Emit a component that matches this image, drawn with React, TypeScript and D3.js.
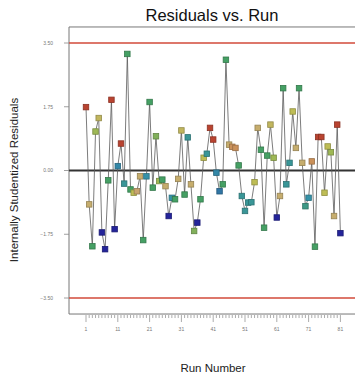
import React from "react";
import * as d3 from "d3";

const runs: number[] = Array.from({ length: 81 }, (_, i) => i + 1);
const residuals: number[] = [
  1.74, -0.93, -2.08, 1.07, 1.44, -1.7, -2.16, -0.27, 1.94, -1.61,
  0.12, 0.74, -0.36, 3.2, -0.52, -0.61, -0.57, -0.16, -1.91, -0.16,
  1.88, -0.47, 0.94, -0.29, -0.25, -0.43, -1.25, -0.75, -0.79, -0.23,
  1.1, -0.66, 0.91, -0.38, -1.66, -1.43, -0.79, 0.35, 0.46, 1.17,
  0.85, -0.06, -0.57, -0.38, 3.04, 0.71, 0.65, 0.62, 0.14, -0.7,
  -1.11, -0.88, -0.87, -0.32, 1.17, 0.57, -1.57, 0.41, 1.26, 0.35,
  -1.29, -0.7, 2.26, -0.38, 0.21, 1.62, 0.62, 2.26, 0.21, -0.98,
  -0.75, 0.25, -2.09, 0.92, 0.92, -0.61, 0.66, 0.5, -1.25, 1.26, -1.72,
];
// relative response level (0 = lowest, 1 = highest) used for point colour
const responseLevel: number[] = [
  0.95, 0.72, 0.4, 0.55, 0.66, 0.0, 0.0, 0.4, 0.95, 0.0,
  0.18, 0.95, 0.25, 0.4, 0.4, 0.62, 0.76, 0.72, 0.4, 0.2,
  0.4, 0.4, 0.5, 0.55, 0.4, 0.72, 0.0, 0.2, 0.4, 0.72,
  0.66, 0.4, 0.25, 0.72, 0.5, 0.0, 0.4, 0.62, 0.25, 0.95,
  0.95, 0.18, 0.15, 0.4, 0.4, 0.72, 0.8, 0.8, 0.4, 0.25,
  0.25, 0.25, 0.25, 0.62, 0.72, 0.4, 0.4, 0.4, 0.66, 0.55,
  0.0, 0.72, 0.4, 0.25, 0.25, 0.62, 0.72, 0.4, 0.72, 0.3,
  0.2, 0.8, 0.4, 0.95, 0.95, 0.62, 0.62, 0.55, 0.72, 0.95, 0.0,
];
const yTicks: number[] = [3.5, 1.75, 0, -1.75, -3.5];
const xTicks: number[] = [1, 11, 21, 31, 41, 51, 61, 71, 81];
const limit = 3.5;

export default function App() {
  const W = 355, H = 379;
  const x = d3.scaleLinear().domain([1, 81]).range([86, 340.4]);
  const y = d3.scaleLinear().domain([-limit, limit]).range([298, 43]);
  const left = 69, right = 355;
  const top = y(3.94), bottom = y(-3.94);
  const color = d3
    .scaleLinear<string>()
    .domain([0, 0.2, 0.4, 0.6, 0.75, 0.85, 1])
    .range(["#24249a", "#3592a8", "#45a064", "#bcc050", "#c8a874", "#cc7a40", "#b02828"]);
  const line = d3
    .line<number>()
    .x((_, i) => x(runs[i]))
    .y((d) => y(d));
  const fmt = d3.format(".2f");
  const s = 5.5;
  return (
    <svg width={W} height={H} style={{ position: "absolute", left: 0, top: 0, background: "#fff" }}
      fontFamily="Liberation Sans, Arial, sans-serif">
      <text x={212} y={21} textAnchor="middle" fontSize={16.5} fill="#111">Residuals vs. Run</text>
      {/* frame */}
      <line x1={left} x2={right} y1={top} y2={top} stroke="#777" strokeWidth={1} />
      <line x1={left} x2={left} y1={top} y2={bottom} stroke="#777" strokeWidth={1} />
      <line x1={left} x2={right} y1={bottom} y2={bottom} stroke="#777" strokeWidth={1} />
      {/* limits */}
      <line x1={left} x2={right} y1={y(limit)} y2={y(limit)} stroke="#d24a3a" strokeWidth={1.6} />
      <line x1={left} x2={right} y1={y(-limit)} y2={y(-limit)} stroke="#d24a3a" strokeWidth={1.6} />
      {/* y ticks */}
      {yTicks.map((t) => (
        <g key={t}>
          <line x1={left - 5} x2={left} y1={y(t)} y2={y(t)} stroke="#888" strokeWidth={0.8} />
          <text x={left - 16} y={y(t) + 1.8} textAnchor="end" fontSize={5} fill="#777">{fmt(t)}</text>
        </g>
      ))}
      {/* x ticks */}
      {runs.map((r) => (
        <line key={r} x1={x(r)} x2={x(r)} y1={bottom + 1} y2={bottom + (xTicks.includes(r) ? 8 : 4)} stroke="#888" strokeWidth={0.7} />
      ))}
      {xTicks.map((t) => (
        <text key={t} x={x(t)} y={bottom + 17} textAnchor="middle" fontSize={5} fill="#777">{t}</text>
      ))}
      {/* zero line */}
      <line x1={left} x2={right} y1={y(0)} y2={y(0)} stroke="#333" strokeWidth={1.8} />
      {/* series */}
      <path d={line(residuals) || ""} fill="none" stroke="#5a5a5a" strokeWidth={0.8} />
      {residuals.map((v, i) => (
        <rect key={i} x={x(runs[i]) - s / 2} y={y(v) - s / 2} width={s} height={s}
          fill={color(responseLevel[i])} stroke={d3.color(color(responseLevel[i]))!.darker(0.8).toString()} strokeWidth={0.8} />
      ))}
      <text transform={`translate(18,${180}) rotate(-90)`} textAnchor="middle" fontSize={11.5} fill="#222">
        Internally Studentized Residuals
      </text>
      <text x={213} y={372} textAnchor="middle" fontSize={11.5} fill="#222">Run Number</text>
    </svg>
  );
}
